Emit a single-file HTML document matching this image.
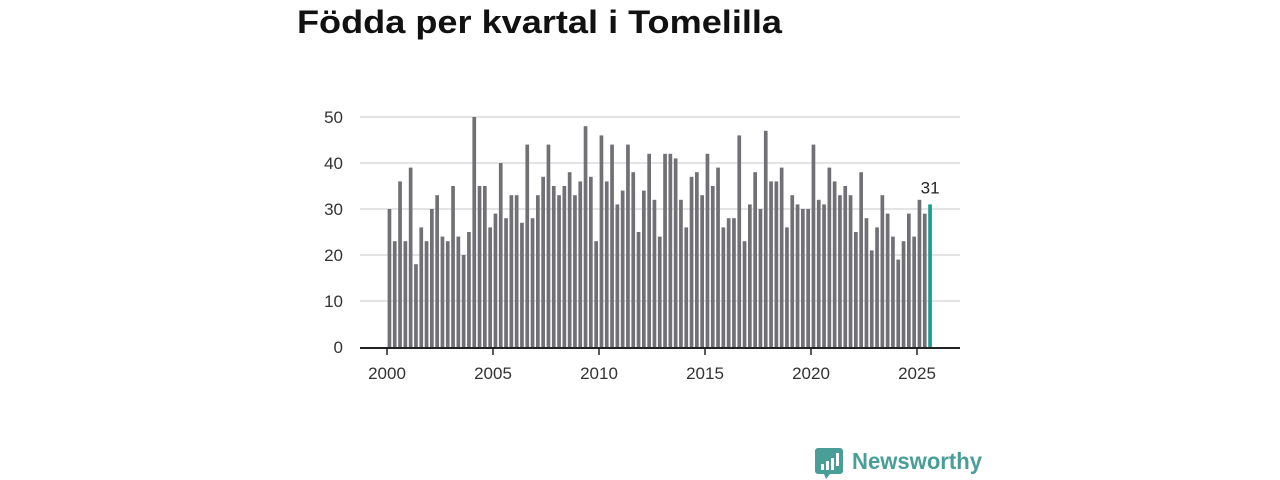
<!DOCTYPE html>
<html><head><meta charset="utf-8"><style>
html,body{margin:0;padding:0;background:#fff;width:1280px;height:480px;overflow:hidden;font-family:"Liberation Sans",sans-serif}
</style></head><body>
<svg id="chart" width="1280" height="480" xmlns="http://www.w3.org/2000/svg" font-family="Liberation Sans, sans-serif">
<text x="297" y="33" font-size="32" font-weight="bold" fill="#111" textLength="485" lengthAdjust="spacingAndGlyphs">Födda per kvartal i Tomelilla</text>
<g id="grid"></g>
<g id="bars"></g>
<g id="axes"></g>
<g>
<path d="M818 448 h22 a3 3 0 0 1 3 3 v20 a3 3 0 0 1 -3 3 h-10 l-4 5 l-2 -5 h-6 a3 3 0 0 1 -3 -3 v-20 a3 3 0 0 1 3 -3z" fill="#4a9e98"/>
<rect x="821" y="464" width="3" height="6" fill="#fff"/><rect x="826" y="461" width="3" height="9" fill="#fff"/><rect x="831" y="458" width="3" height="12" fill="#fff"/><rect x="836" y="453" width="3" height="13" fill="#fff"/>
<text x="852" y="469" font-size="23" font-weight="bold" fill="#4a9e98" textLength="130" lengthAdjust="spacingAndGlyphs">Newsworthy</text>
</g>
</svg>
<script>
const values = [30,23,36,23,39,18,26,23,30,33,24,23,35,24,20,25,50,35,35,26,29,40,28,33,33,27,44,28,33,37,44,35,33,35,38,33,36,48,37,23,46,36,44,31,34,44,38,25,34,42,32,24,42,42,41,32,26,37,38,33,42,35,39,26,28,28,46,23,31,38,30,47,36,36,39,26,33,31,30,30,44,32,31,39,36,33,35,33,25,38,28,21,26,33,29,24,19,23,29,24,32,29,31];
const startYear = 2000;
const yTicks = [0,10,20,30,40,50];
const xTicks = [2000,2005,2010,2015,2020,2025];
const NS="http://www.w3.org/2000/svg";
function x(t){return 387+(t-2000)*21.2;}
function y(v){return 347-v*4.6;}
function mk(tag,attrs,parent){const e=document.createElementNS(NS,tag);for(const k in attrs)e.setAttribute(k,attrs[k]);parent.appendChild(e);return e;}
const grid=document.getElementById('grid'),bars=document.getElementById('bars'),axes=document.getElementById('axes');
yTicks.forEach(v=>{
  if(v>0){const l=mk('line',{x1:360,x2:960,y1:y(v),y2:y(v),stroke:'#dcdcdc','stroke-width':1.5},grid);
  
  }
  const t=mk('text',{x:343,y:y(v)+6,'font-size':17,fill:'#333','text-anchor':'end'},axes);
  t.textContent=v;
  
  
});
values.forEach((v,i)=>{
  const t=startYear+i/4;
  const last=i===values.length-1;
  const r=mk('rect',{x:x(t)+0.6,y:y(v),width:3.7,height:y(0)-y(v),fill:last?'#1a9e8f':'#717075'},bars);
  
  
  if(last){const lb=mk('text',{x:x(t)+2.5,y:y(v)-11,'font-size':17,fill:'#222','text-anchor':'middle'},bars);
    lb.textContent=v;
    
    }
});
const base=mk('line',{x1:360,x2:960,y1:348,y2:348,stroke:'#222','stroke-width':2},axes);


xTicks.forEach(yr=>{
  const tk=mk('line',{x1:x(yr),x2:x(yr),y1:348,y2:355,stroke:'#222','stroke-width':1.5},axes);
  
  
  const t=mk('text',{x:x(yr),y:379,'font-size':17,fill:'#333','text-anchor':'middle'},axes);
  t.textContent=yr;
  
  
});
</script>
</body></html>
